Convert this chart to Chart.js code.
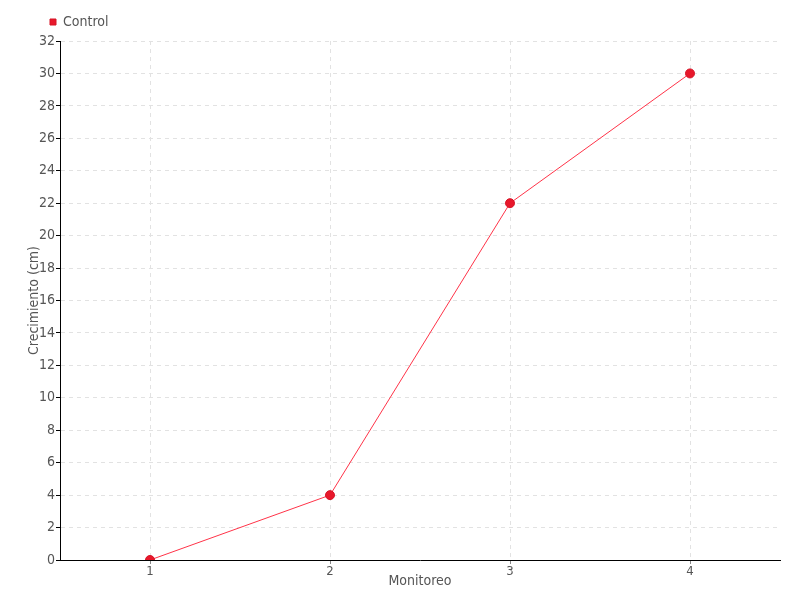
<!DOCTYPE html>
<html><head><meta charset="utf-8">
<script src="https://cdn.jsdelivr.net/npm/chart.js@4"></script>
<style>html,body{margin:0;padding:0;background:#fff}#w{width:800px;height:600px}</style>
</head><body><div id="w"><canvas id="c" width="800" height="600"></canvas></div>
<script>
const categories = ['1', '2', '3', '4'];
const controlValues = [0, 4, 22, 30];
const seriesLabel = 'Control';
const yTitle = 'Crecimiento (cm)';
const xTitle = 'Monitoreo';
const FONT = "'DejaVu Sans Condensed', 'Liberation Sans Narrow', 'Roboto', sans-serif";
const TXT = '#555555';

const legendShift = {
  id: 'legendShift',
  afterLayout(chart) {
    if (chart.legend) { chart.legend.left = 40; chart.legend.top -= 2; }
  }
};

new Chart(document.getElementById('c'), {
  type: 'line',
  data: {
    labels: categories,
    datasets: [{
      label: seriesLabel,
      data: controlValues,
      borderColor: '#ff3348',
      backgroundColor: '#e8182b',
      pointBackgroundColor: '#e8182b',
      pointBorderColor: '#d61427',
      pointBorderWidth: 1,
      pointRadius: 4.5,
      borderWidth: 1,
      tension: 0,
      fill: false
    }]
  },
  plugins: [legendShift],
  options: {
    responsive: false,
    animation: false,
    devicePixelRatio: 1,
    layout: { padding: { top: 7, right: 20, left: 0, bottom: 0 } },
    plugins: {
      legend: {
        display: true,
        align: 'start',
        labels: {
          usePointStyle: true,
          pointStyle: 'rect',
          boxWidth: 6,
          boxHeight: 6,
          color: TXT,
          font: { family: FONT, size: 14 },
          padding: 10
        }
      },
      tooltip: { enabled: false }
    },
    scales: {
      x: {
        offset: true,
        grid: {
          color: '#e2e2e2',
          tickColor: '#888888',
          tickLength: 4,
          tickBorderDash: [],
          offset: false
        },
        border: { color: '#000000', width: 1, dash: [4, 4] },
        ticks: { color: TXT, font: { family: FONT, size: 13 }, padding: 0, maxRotation: 0 },
        title: { display: true, text: xTitle, color: TXT, font: { family: FONT, size: 14 }, padding: { top: 0, bottom: 10 } },
        afterFit: (s) => { s.height = 40; }
      },
      y: {
        min: 0,
        max: 32,
        ticks: { stepSize: 2, color: TXT, font: { family: FONT, size: 14 }, padding: 1 },
        grid: {
          color: '#e2e2e2',
          tickColor: '#000000',
          tickLength: 4,
          tickBorderDash: []
        },
        border: { color: '#000000', width: 1, dash: [4, 4] },
        title: { display: true, text: yTitle, color: TXT, font: { family: FONT, size: 14 }, padding: { top: 26, bottom: 0 } },
        afterFit: (s) => { s.width = 60; }
      }
    }
  }
});
</script>
</body></html>
